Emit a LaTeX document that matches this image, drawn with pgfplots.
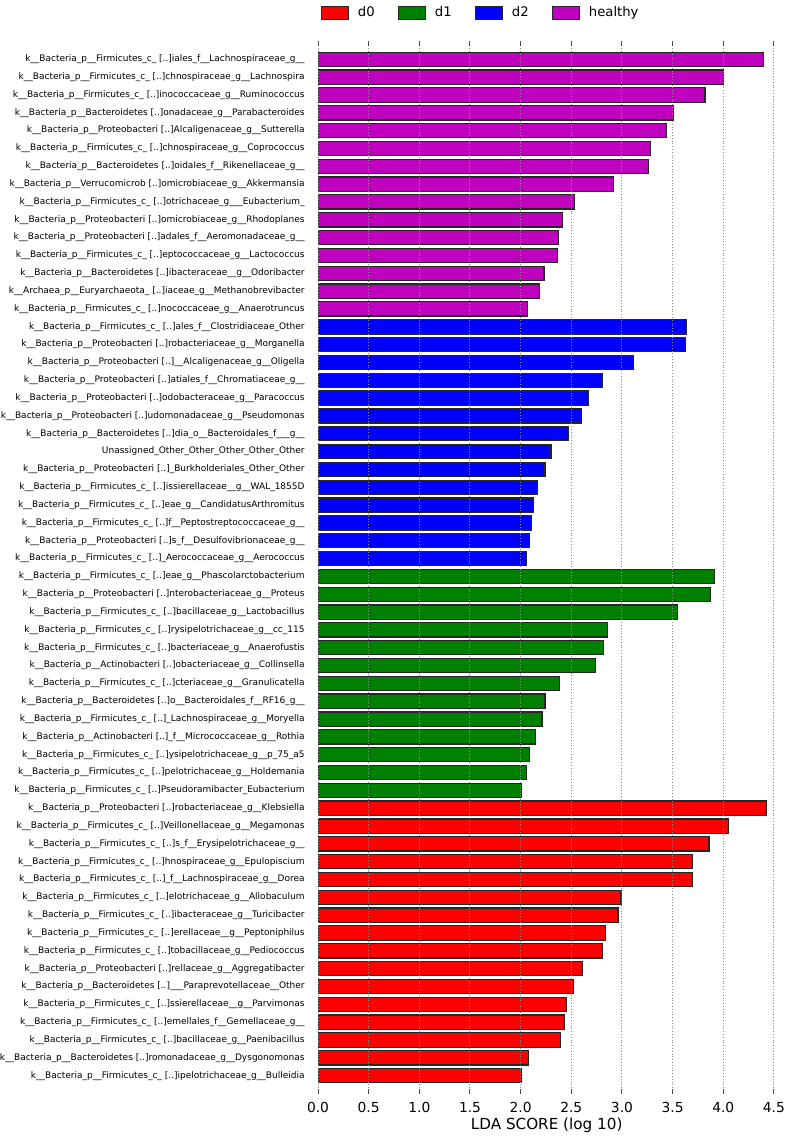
\documentclass[border=0pt]{standalone}
\usepackage{pgfplots}
\pgfplotsset{compat=1.18}
\usepackage{fontspec}
\setmainfont{DejaVu Sans}
\definecolor{cdzero}{RGB}{255,0,0}
\definecolor{cdone}{RGB}{0,128,0}
\definecolor{cdtwo}{RGB}{0,0,255}
\definecolor{chealthy}{RGB}{191,0,191}
\newcommand{\kb}{k\_\_Bacteria\_p\_\_}
\newcommand{\Fir}{Firmicutes\_c\_ [..]}
\newcommand{\Pro}{Proteobacteri [..]}
\newcommand{\Bac}{Bacteroidetes [..]}
\newcommand{\Act}{Actinobacteri [..]}

\begin{document}
\begin{tikzpicture}
\path[use as bounding box] (0,0) rectangle (393.5pt,569pt);
\begin{axis}[at={(159pt,22.25pt)}, anchor=south west, scale only axis,
    width=230.5pt, height=526pt,
    xbar, bar shift=0pt, bar width=0.8,
    xmin=0, xmax=4.55, ymin=-1, ymax=58,
    axis line style={draw=none}, axis on top,
    xtick={0,0.5,1,1.5,2,2.5,3,3.5,4,4.5},
    xticklabels={0.0,0.5,1.0,1.5,2.0,2.5,3.0,3.5,4.0,4.5},
    xtick pos=both, xticklabel pos=lower,
    major tick length=2.5pt,
    x tick style={black!70, line width=0.5pt},
    y tick style={draw=none},
    xmajorgrids, major grid style={densely dotted, black!45, line width=0.5pt},
    xticklabel style={font=\fontsize{6.9}{8}\selectfont, yshift=-1pt},
    xlabel={LDA SCORE (log 10)},
    every axis x label/.style={at={(axis description cs:0.496,0)}, anchor=center,
      yshift=-16pt, font=\fontsize{7.6}{9}\selectfont},
    ytick={0,...,57},
    yticklabel style={font=\fontsize{4.5}{5}\selectfont, inner sep=0pt, xshift=-4pt},
    yticklabels={
      {\kb\Fir ipelotrichaceae\_g\_\_Bulleidia},
      {\kb\Bac romonadaceae\_g\_\_Dysgonomonas},
      {\kb\Fir bacillaceae\_g\_\_Paenibacillus},
      {\kb\Fir emellales\_f\_\_Gemellaceae\_g\_\_},
      {\kb\Fir ssierellaceae\_\_g\_\_Parvimonas},
      {\kb\Bac\_\_\_Paraprevotellaceae\_\_Other},
      {\kb\Pro rellaceae\_g\_\_Aggregatibacter},
      {\kb\Fir tobacillaceae\_g\_\_Pediococcus},
      {\kb\Fir erellaceae\_\_g\_\_Peptoniphilus},
      {\kb\Fir ibacteraceae\_g\_\_Turicibacter},
      {\kb\Fir elotrichaceae\_g\_\_Allobaculum},
      {\kb\Fir\_f\_\_Lachnospiraceae\_g\_\_Dorea},
      {\kb\Fir hnospiraceae\_g\_\_Epulopiscium},
      {\kb\Fir s\_f\_\_Erysipelotrichaceae\_g\_\_},
      {\kb\Fir Veillonellaceae\_g\_\_Megamonas},
      {\kb\Pro robacteriaceae\_g\_\_Klebsiella},
      {\kb\Fir Pseudoramibacter\_Eubacterium},
      {\kb\Fir pelotrichaceae\_g\_\_Holdemania},
      {\kb\Fir ysipelotrichaceae\_g\_\_p\_75\_a5},
      {\kb\Act\_f\_\_Micrococcaceae\_g\_\_Rothia},
      {\kb\Fir\_Lachnospiraceae\_g\_\_Moryella},
      {\kb\Bac o\_\_Bacteroidales\_f\_\_RF16\_g\_\_},
      {\kb\Fir cteriaceae\_g\_\_Granulicatella},
      {\kb\Act obacteriaceae\_g\_\_Collinsella},
      {\kb\Fir bacteriaceae\_g\_\_Anaerofustis},
      {\kb\Fir rysipelotrichaceae\_g\_\_cc\_115},
      {\kb\Fir bacillaceae\_g\_\_Lactobacillus},
      {\kb\Pro nterobacteriaceae\_g\_\_Proteus},
      {\kb\Fir eae\_g\_\_Phascolarctobacterium},
      {\kb\Fir\_Aerococcaceae\_g\_\_Aerococcus},
      {\kb\Pro s\_f\_\_Desulfovibrionaceae\_g\_\_},
      {\kb\Fir f\_\_Peptostreptococcaceae\_g\_\_},
      {\kb\Fir eae\_g\_\_CandidatusArthromitus},
      {\kb\Fir issierellaceae\_\_g\_\_WAL\_1855D},
      {\kb\Pro\_Burkholderiales\_Other\_Other},
      {Unassigned\_Other\_Other\_Other\_Other\_Other},
      {\kb\Bac dia\_o\_\_Bacteroidales\_f\_\_\_g\_\_},
      {\kb\Pro udomonadaceae\_g\_\_Pseudomonas},
      {\kb\Pro odobacteraceae\_g\_\_Paracoccus},
      {\kb\Pro atiales\_f\_\_Chromatiaceae\_g\_\_},
      {\kb\Pro\_\_Alcaligenaceae\_g\_\_Oligella},
      {\kb\Pro robacteriaceae\_g\_\_Morganella},
      {\kb\Fir ales\_f\_\_Clostridiaceae\_Other},
      {\kb\Fir nococcaceae\_g\_\_Anaerotruncus},
      {k\_\_Archaea\_p\_\_Euryarchaeota\_ [..]iaceae\_g\_\_Methanobrevibacter},
      {\kb\Bac ibacteraceae\_\_g\_\_Odoribacter},
      {\kb\Fir eptococcaceae\_g\_\_Lactococcus},
      {\kb\Pro adales\_f\_\_Aeromonadaceae\_g\_\_},
      {\kb\Pro omicrobiaceae\_g\_\_Rhodoplanes},
      {\kb\Fir otrichaceae\_g\_\_\_Eubacterium\_},
      {\kb Verrucomicrob [..]omicrobiaceae\_g\_\_Akkermansia},
      {\kb\Bac oidales\_f\_\_Rikenellaceae\_g\_\_},
      {\kb\Fir chnospiraceae\_g\_\_Coprococcus},
      {\kb\Pro Alcaligenaceae\_g\_\_Sutterella},
      {\kb\Bac onadaceae\_g\_\_Parabacteroides},
      {\kb\Fir inococcaceae\_g\_\_Ruminococcus},
      {\kb\Fir chnospiraceae\_g\_\_Lachnospira},
      {\kb\Fir iales\_f\_\_Lachnospiraceae\_g\_\_}},
    legend columns=4,
    legend style={draw=none, fill=none, at={(axis description cs:0.355,1.027)}, anchor=center,
      font=\fontsize{6.6}{8}\selectfont,
      /tikz/every odd column/.append style={column sep=2.5pt},
      /tikz/every even column/.append style={column sep=9.5pt}},
    legend image code/.code={\draw[#1, line width=0.6pt] (0pt,-3.3pt) rectangle (13.5pt,3.3pt);},
  ]
  \addplot[fill=cdzero, draw=black!85, line width=0.6pt] coordinates {
    (2.01,0) (2.08,1) (2.39,2) (2.43,3) (2.45,4) (2.52,5) (2.61,6) (2.81,7)
    (2.84,8) (2.96,9) (2.99,10) (3.70,11) (3.70,12) (3.86,13) (4.05,14) (4.43,15)};
  \addlegendentry{d0}
  \addplot[fill=cdone, draw=black!85, line width=0.6pt] coordinates {
    (2.01,16) (2.06,17) (2.09,18) (2.15,19) (2.21,20) (2.24,21) (2.38,22)
    (2.74,23) (2.82,24) (2.86,25) (3.55,26) (3.87,27) (3.91,28)};
  \addlegendentry{d1}
  \addplot[fill=cdtwo, draw=black!85, line width=0.6pt] coordinates {
    (2.06,29) (2.09,30) (2.11,31) (2.13,32) (2.17,33) (2.24,34) (2.30,35)
    (2.47,36) (2.60,37) (2.67,38) (2.81,39) (3.11,40) (3.63,41) (3.64,42)};
  \addlegendentry{d2}
  \addplot[fill=chealthy, draw=black!85, line width=0.6pt] coordinates {
    (2.07,43) (2.19,44) (2.23,45) (2.36,46) (2.37,47) (2.41,48) (2.53,49)
    (2.92,50) (3.26,51) (3.28,52) (3.44,53) (3.51,54) (3.82,55) (4.00,56) (4.40,57)};
  \addlegendentry{healthy}
\end{axis}
\end{tikzpicture}
\end{document}
